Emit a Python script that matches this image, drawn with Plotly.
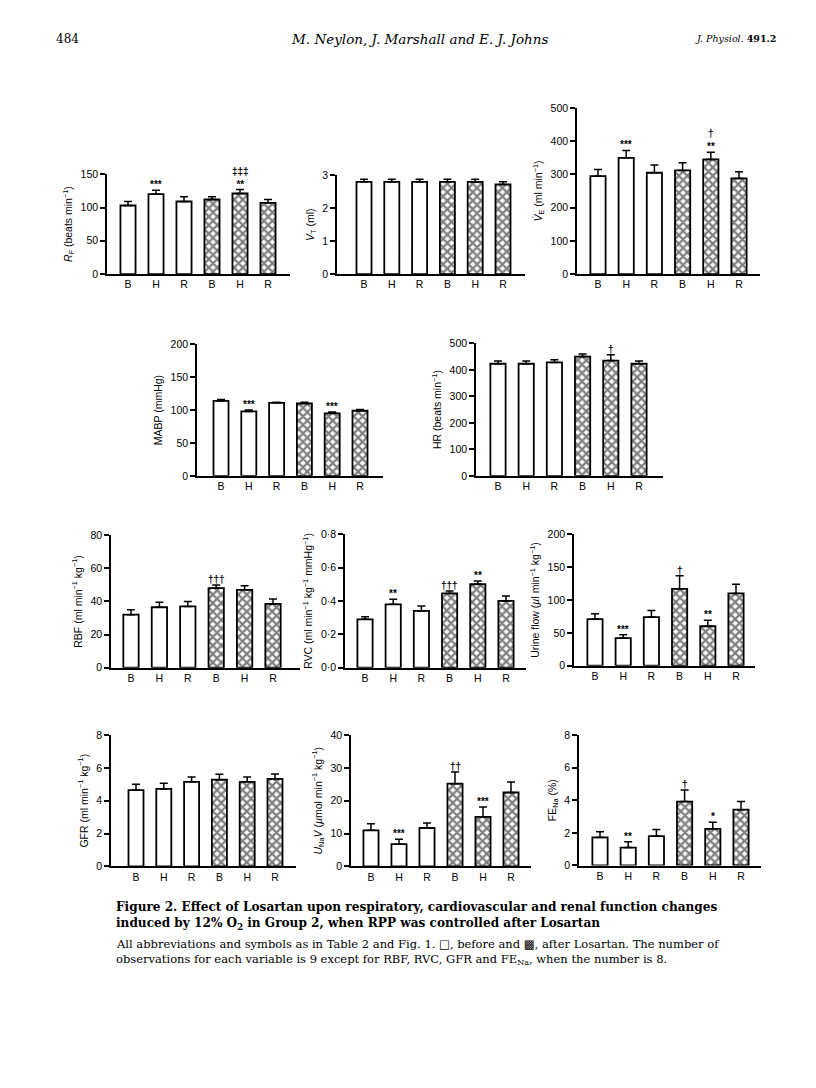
import plotly.graph_objects as go

W, H = 816, 1088
cats = ["B", "H", "R", "B", "H", "R"]

# ---- data (means, upward SEM bars, significance marks) ----
rf_mean = [103, 120, 109, 112, 121, 107]
rf_sem = [6, 6, 7, 4, 6, 5]
rf_sig = ["", "***", "", "", "‡‡‡<br>**", ""]

vt_mean = [2.8, 2.8, 2.8, 2.8, 2.8, 2.72]
vt_sem = [0.08, 0.08, 0.08, 0.08, 0.08, 0.08]
vt_sig = ["", "", "", "", "", ""]

ve_mean = [295, 350, 305, 312, 345, 288]
ve_sem = [20, 22, 23, 23, 22, 20]
ve_sig = ["", "***", "", "", "†<br>**", ""]

mabp_mean = [114, 98, 111, 110, 95, 99]
mabp_sem = [2, 2, 1, 2, 2, 2]
mabp_sig = ["", "***", "", "", "***", ""]

hr_mean = [423, 423, 428, 450, 435, 423]
hr_sem = [10, 10, 10, 10, 22, 10]
hr_sig = ["", "", "", "", "†", ""]

rbf_mean = [32, 36.5, 37, 48, 47, 38.5]
rbf_sem = [3, 3, 3, 2, 2.5, 3]
rbf_sig = ["", "", "", "†††", "", ""]

rvc_mean = [0.29, 0.38, 0.34, 0.445, 0.50, 0.40]
rvc_sem = [0.015, 0.03, 0.03, 0.015, 0.02, 0.03]
rvc_sig = ["", "**", "", "†††", "**", ""]

uf_mean = [71, 42, 74, 117, 60, 110]
uf_sem = [8, 5, 10, 20, 9, 14]
uf_sig = ["", "***", "", "†", "**", ""]

gfr_mean = [4.65, 4.72, 5.15, 5.28, 5.15, 5.33]
gfr_sem = [0.35, 0.35, 0.3, 0.33, 0.3, 0.3]
gfr_sig = ["", "", "", "", "", ""]

unav_mean = [11, 6.8, 11.7, 25.2, 15.1, 22.5]
unav_sem = [2, 1.5, 1.5, 3.5, 3, 3.2]
unav_sig = ["", "***", "", "††", "***", ""]

fena_mean = [1.72, 1.1, 1.8, 3.92, 2.25, 3.42]
fena_sem = [0.35, 0.35, 0.4, 0.7, 0.4, 0.5]
fena_sig = ["", "**", "", "†", "*", ""]

M1 = "<sup>−1</sup>"
panels = [
    dict(mean=rf_mean, sem=rf_sem, sig=rf_sig, ymax=150, ticks=[0, 50, 100, 150], tt=None,
         title="<i>R</i><sub><i>F</i></sub> (beats min" + M1 + ")",
         box=(99, 282, 162, 263), b0=120, sp=28),
    dict(mean=vt_mean, sem=vt_sem, sig=vt_sig, ymax=3, ticks=[0, 1, 2, 3], tt=None,
         title="<i>V</i><sub>T</sub> (ml)",
         box=(329, 517, 163, 263), b0=356, sp=27.8),
    dict(mean=ve_mean, sem=ve_sem, sig=ve_sig, ymax=500, ticks=[0, 100, 200, 300, 400, 500], tt=None,
         title="<i>V̇</i><sub>E</sub> (ml min" + M1 + ")",
         box=(569, 752, 95, 263), b0=590, sp=28.2),
    dict(mean=mabp_mean, sem=mabp_sem, sig=mabp_sig, ymax=200, ticks=[0, 50, 100, 150, 200], tt=None,
         title="MABP (mmHg)",
         box=(189, 375, 334, 467), b0=213, sp=27.8),
    dict(mean=hr_mean, sem=hr_sem, sig=hr_sig, ymax=500, ticks=[0, 100, 200, 300, 400, 500], tt=None,
         title="HR (beats min" + M1 + ")",
         box=(468, 655, 333, 467), b0=490, sp=28.2),
    dict(mean=rbf_mean, sem=rbf_sem, sig=rbf_sig, ymax=80, ticks=[0, 20, 40, 60, 80], tt=None,
         title="RBF (ml min" + M1 + " kg" + M1 + ")",
         box=(103, 292, 527, 661), b0=123, sp=28.4),
    dict(mean=rvc_mean, sem=rvc_sem, sig=rvc_sig, ymax=0.8, ticks=[0, 0.2, 0.4, 0.6, 0.8],
         tt=["0·0", "0·2", "0·4", "0·6", "0·8"],
         title="RVC (ml min" + M1 + " kg" + M1 + " mmHg" + M1 + ")",
         box=(337, 518, 526, 661), b0=357, sp=28.2),
    dict(mean=uf_mean, sem=uf_sem, sig=uf_sig, ymax=200, ticks=[0, 50, 100, 150, 200], tt=None,
         title="Urine flow (<i>µ</i>l min" + M1 + " kg" + M1 + ")",
         box=(566, 747, 526, 659), b0=587, sp=28.2),
    dict(mean=gfr_mean, sem=gfr_sem, sig=gfr_sig, ymax=8, ticks=[0, 2, 4, 6, 8], tt=None,
         title="GFR (ml min" + M1 + " kg" + M1 + ")",
         box=(103, 288, 729, 862), b0=128, sp=27.8),
    dict(mean=unav_mean, sem=unav_sem, sig=unav_sig, ymax=40, ticks=[0, 10, 20, 30, 40], tt=None,
         title="<i>U</i><sub>Na</sub><i>V</i> (<i>µ</i>mol min" + M1 + " kg" + M1 + ")",
         box=(343, 523, 729, 862), b0=363, sp=28),
    dict(mean=fena_mean, sem=fena_sem, sig=fena_sig, ymax=8, ticks=[0, 2, 4, 6, 8], tt=None,
         title="FE<sub>Na</sub> (%)",
         box=(571, 753, 729, 861), b0=592, sp=28.2),
]

FONT = "Liberation Sans, Arial, sans-serif"
SERIF = "DejaVu Serif, Liberation Serif, serif"

fig = go.Figure()
layout = {}
annotations = []
idx = list(range(len(cats)))
bw = 0.54

for n, p in enumerate(panels, start=1):
    xa, ya = ("x" if n == 1 else f"x{n}"), ("y" if n == 1 else f"y{n}")
    for part, styled in ((idx[:3], False), (idx[3:], True)):
        marker = dict(color="white", line=dict(color="black", width=1.8))
        if styled:
            marker["pattern"] = dict(shape="x", fgcolor="black", bgcolor="white",
                                     size=6, solidity=0.6, fillmode="overlay")
        fig.add_trace(go.Bar(
            x=part, y=[p["mean"][i] for i in part], width=bw,
            marker=marker, xaxis=xa, yaxis=ya, showlegend=False,
            error_y=dict(type="data", symmetric=False,
                         array=[p["sem"][i] for i in part],
                         arrayminus=[0] * len(part),
                         color="black", thickness=1.5, width=4)))
    x0, x1, y0, y1 = p["box"]
    b0, sp = p["b0"], p["sp"]
    layout["xaxis" + ("" if n == 1 else str(n))] = dict(
        domain=[x0 / W, x1 / W], anchor=ya, range=[(x0 - b0) / sp, (x1 - b0) / sp],
        tickvals=idx, ticktext=cats, showline=True, linecolor="black", linewidth=1.5,
        ticks="", showgrid=False, zeroline=False,
        tickfont=dict(family=FONT, size=10.5, color="black"))
    layout["yaxis" + ("" if n == 1 else str(n))] = dict(
        domain=[1 - y1 / H, 1 - y0 / H], anchor=xa, range=[0, p["ymax"]],
        tickvals=p["ticks"], ticktext=p["tt"] if p["tt"] else [str(t) for t in p["ticks"]],
        ticks="outside", ticklen=5, tickwidth=1.5, tickcolor="black",
        showline=True, linecolor="black", linewidth=1.5, showgrid=False, zeroline=False,
        tickfont=dict(family=FONT, size=10.5, color="black"),
        title=dict(text=p["title"], font=dict(family=FONT, size=10.5, color="black"), standoff=6))
    for i, s in enumerate(p["sig"]):
        if s:
            annotations.append(dict(
                x=i, y=p["mean"][i] + p["sem"][i], xref=xa, yref=ya,
                text="<b>" + s + "</b>", showarrow=False, yanchor="bottom", yshift=-2,
                font=dict(family=FONT, size=10, color="black")))

# header
annotations += [
    dict(x=46 / W, y=1 - 25 / H, xref="paper", yref="paper", xanchor="left", yanchor="middle",
         text="484", showarrow=False, font=dict(family=SERIF, size=12, color="black")),
    dict(x=411 / W, y=1 - 25 / H, xref="paper", yref="paper", xanchor="center", yanchor="middle",
         text="<i>M. Neylon, J. Marshall and E. J. Johns</i>", showarrow=False,
         font=dict(family=SERIF, size=13.5, color="black")),
    dict(x=770 / W, y=1 - 25 / H, xref="paper", yref="paper", xanchor="right", yanchor="middle",
         text="<i>J. Physiol.</i> <b>491.2</b>", showarrow=False,
         font=dict(family=SERIF, size=9.5, color="black")),
]

caption = [
    ("<b>Figure 2. Effect of Losartan upon respiratory, cardiovascular and renal function changes</b>", 903, 12.1),
    ("<b>induced by 12% O<sub>2</sub> in Group 2, when RPP was controlled after Losartan</b>", 920, 12.1),
    ("All abbreviations and symbols as in Table 2 and Fig. 1. □, before and ▩, after Losartan. The number of", 940, 11.5),
    ("observations for each variable is 9 except for RBF, RVC, GFR and FE<sub>Na</sub>, when the number is 8.", 956, 11.5),
]
for text, yy, fs in caption:
    annotations.append(dict(x=106 / W, y=1 - yy / H, xref="paper", yref="paper",
                            xanchor="left", yanchor="middle", text=text, showarrow=False,
                            font=dict(family=SERIF, size=fs, color="black")))

fig.update_layout(
    width=W, height=H, margin=dict(l=0, r=0, t=0, b=0),
    paper_bgcolor="white", plot_bgcolor="white",
    annotations=annotations, **layout)

fig.write_html("out.html")
